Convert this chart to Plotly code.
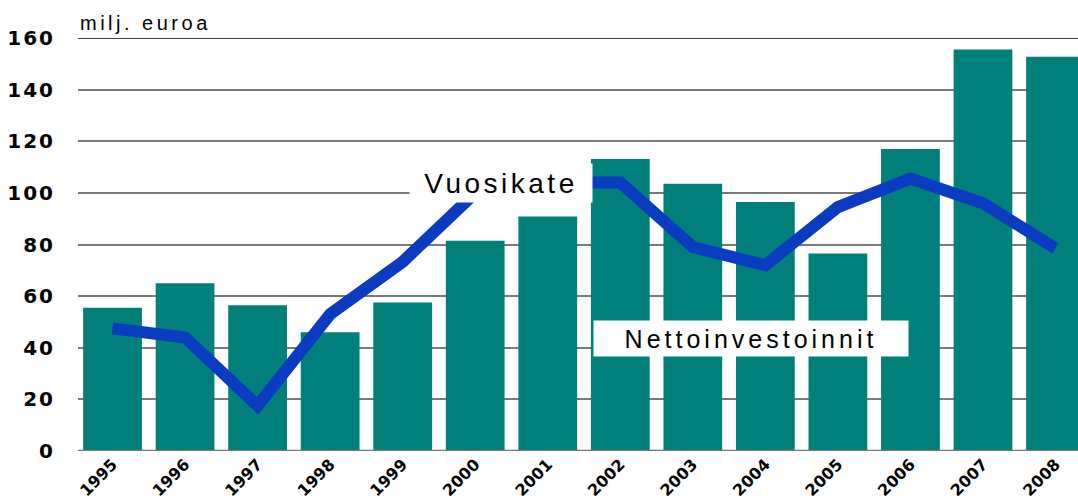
import plotly.graph_objects as go

years = ["1995", "1996", "1997", "1998", "1999", "2000", "2001", "2002",
         "2003", "2004", "2005", "2006", "2007", "2008"]
nettoinvestoinnit = [55.5, 65, 56.5, 46, 57.5, 81.5, 90.8, 113.1,
                     103.5, 96.5, 76.5, 117, 155.5, 152.7]
vuosikate = [47.5, 44, 17.5, 53, 73.3, 100, 104, 104,
             79, 72, 94.5, 105.5, 96, 78.5]
y_ticks = [0, 20, 40, 60, 80, 100, 120, 140, 160]

x_idx = list(range(len(years)))
y_text = ['<span style="letter-spacing:2px">%d</span>' % v for v in y_ticks]

fig = go.Figure()
fig.add_trace(go.Bar(x=x_idx, y=nettoinvestoinnit, marker=dict(color="#007F7B", line=dict(width=0)),
                     name="Nettoinvestoinnit", showlegend=False))
fig.add_trace(go.Scatter(x=x_idx, y=vuosikate, mode="lines",
                         line=dict(color="#0A3CC2", width=12), name="Vuosikate", showlegend=False))

fig.update_layout(
    width=1078, height=504,
    margin=dict(l=78, r=0, t=38, b=53),
    plot_bgcolor="white", paper_bgcolor="white",
    bargap=0.19,
    xaxis=dict(range=[-0.476, 13.31], tickmode="array", tickvals=x_idx, ticktext=years,
               tickangle=-45, showgrid=False, zeroline=False, showline=False, ticks="",
               automargin=False, ticklabelstandoff=0,
               tickfont=dict(family="DejaVu Sans", size=16, color="black", weight="bold")),
    yaxis=dict(range=[0, 160], tickmode="array", tickvals=y_ticks, ticktext=y_text,
               showgrid=True, gridcolor="#7a7a7a", gridwidth=1.5, zeroline=False,
               showline=False, ticks="", automargin=False, ticklabelstandoff=22,
               tickfont=dict(family="DejaVu Sans", size=20, color="black", weight="bold")),
    font=dict(family="Liberation Sans"),
)
fig.add_shape(type="line", xref="paper", yref="y", x0=0, x1=1, y0=0, y1=0,
              line=dict(color="#777777", width=2.5), layer="above")
fig.add_shape(type="line", xref="paper", yref="y", x0=0, x1=1, y0=160, y1=160,
              line=dict(color="black", width=1.5), layer="above")

fig.add_annotation(xref="paper", yref="paper", x=0, y=1, xanchor="left", yanchor="bottom",
                   yshift=2, text='<span style="letter-spacing:3.5px">milj. euroa</span>',
                   showarrow=False,
                   font=dict(family="Liberation Sans", size=20, color="black"))
fig.add_annotation(x=5.35, y=104, text='<span style="letter-spacing:3.5px">Vuosikate</span>',
                   showarrow=False, bgcolor="white", width=180, height=36,
                   font=dict(family="Liberation Sans", size=28, color="black"))
fig.add_annotation(x=8.8, y=43.5, text='<span style="letter-spacing:4px">Nettoinvestoinnit</span>',
                   showarrow=False, bgcolor="white", width=312, height=33,
                   font=dict(family="Liberation Sans", size=25, color="black"))

fig.write_html("out.html", config={"displayModeBar": False},
               post_script="document.body.style.margin='0';")
